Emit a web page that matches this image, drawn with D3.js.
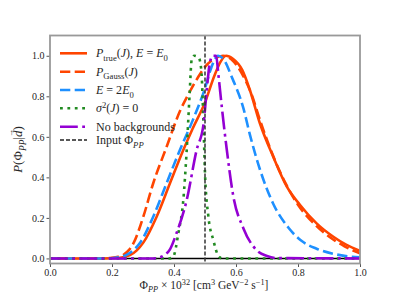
<!DOCTYPE html>
<html>
<head>
<meta charset="utf-8">
<script src="https://cdn.jsdelivr.net/npm/d3@7"></script>
<style>
  body { margin: 0; background: #fff; }
  svg text, svg tspan { font-family: "Liberation Serif", "Times New Roman", serif !important; fill: #262626; }
</style>
</head>
<body>
<div id="container"></div>
<script>
/* DATA */
const pTrue = [[0, 0], [0.17, 0], [0.21, 0.002], [0.235, 0.006], [0.258, 0.016], [0.28, 0.04], [0.301, 0.078],
  [0.344, 0.206], [0.387, 0.371], [0.43, 0.535], [0.46, 0.64], [0.5, 0.77], [0.53, 0.9], [0.55, 0.97],
  [0.568, 1.0], [0.59, 0.985], [0.62, 0.93], [0.645, 0.83], [0.677, 0.667], [0.72, 0.502], [0.764, 0.354],
  [0.806, 0.265], [0.86, 0.173], [0.914, 0.107], [0.955, 0.068], [1.0, 0.037]];

const pGauss = [[0, 0], [0.16, 0], [0.2, 0.003], [0.22, 0.008], [0.237, 0.018], [0.255, 0.042], [0.269, 0.074],
  [0.301, 0.206], [0.333, 0.371], [0.376, 0.55], [0.42, 0.73], [0.45, 0.82], [0.48, 0.9], [0.5, 0.945],
  [0.53, 0.985], [0.558, 1.0], [0.59, 0.975], [0.62, 0.91], [0.65, 0.81], [0.68, 0.67], [0.72, 0.505],
  [0.76, 0.37], [0.8, 0.265], [0.86, 0.16], [0.91, 0.097], [0.95, 0.06], [1.0, 0.025]];

const pE2 = [[0, 0], [0.17, 0], [0.205, 0.002], [0.228, 0.007], [0.247, 0.018], [0.27, 0.042], [0.29, 0.076],
  [0.333, 0.206], [0.376, 0.371], [0.419, 0.535], [0.46, 0.68], [0.5, 0.84], [0.52, 0.94], [0.542, 1.0],
  [0.565, 0.97], [0.585, 0.9], [0.624, 0.74], [0.645, 0.61], [0.677, 0.44], [0.72, 0.27], [0.77, 0.15],
  [0.81, 0.088], [0.86, 0.048], [0.94, 0.015], [1.0, 0.005]];

const pSigma0 = [[0, 0], [0.385, 0], [0.398, 0.01], [0.414, 0.124], [0.43, 0.288], [0.441, 0.535],
  [0.45, 0.8], [0.457, 0.98], [0.465, 1.0], [0.48, 0.99], [0.488, 0.93], [0.495, 0.667], [0.5, 0.42],
  [0.511, 0.206], [0.527, 0.09], [0.543, 0.013], [0.555, 0], [1.0, 0]];

const pNoBg = [[0, 0], [0.335, 0], [0.352, 0.004], [0.366, 0.014], [0.387, 0.045], [0.408, 0.124],
  [0.441, 0.288], [0.473, 0.535], [0.495, 0.66], [0.505, 0.82], [0.515, 0.96], [0.525, 1.0], [0.536, 1.0],
  [0.543, 0.91], [0.554, 0.75], [0.57, 0.54], [0.591, 0.31], [0.624, 0.148], [0.667, 0.04],
  [0.7, 0.012], [0.73, 0.002], [1.0, 0]];

const inputPhi = 0.5;
const xTicks = [0, 0.2, 0.4, 0.6, 0.8, 1.0];
const yTicks = [0, 0.2, 0.4, 0.6, 0.8, 1.0];

/* CONSTANTS */
const width = 400, height = 300;
const margin = { top: 35.5, bottom: 36.5, left: 50, right: 40 };
const serif = '"Liberation Serif", "Times New Roman", serif';

const series = [
  { data: pTrue, color: "#ff4500", dash: null,
    label: [{ t: "P", i: 1 }, { t: "true", sub: 1 }, { t: "(" }, { t: "J", i: 1 }, { t: "), " }, { t: "E", i: 1 }, { t: " = " }, { t: "E", i: 1 }, { t: "0", sub: 1 }] },
  { data: pGauss, color: "#ff4500", dash: "10.3,4.4",
    label: [{ t: "P", i: 1 }, { t: "Gauss", sub: 1 }, { t: "(" }, { t: "J", i: 1 }, { t: ")" }] },
  { data: pE2, color: "#1e90ff", dash: "10.3,4.4",
    label: [{ t: "E", i: 1 }, { t: " = 2" }, { t: "E", i: 1 }, { t: "0", sub: 1 }] },
  { data: pSigma0, color: "#228b22", dash: "2.8,4.6",
    label: [{ t: "σ", i: 1 }, { t: "2", sup: 1 }, { t: "(" }, { t: "J", i: 1 }, { t: ") = 0" }] },
  { data: pNoBg, color: "#9400d3", dash: "17.8,4.4,2.8,4.4",
    label: [{ t: "No backgrounds" }] }
];

/* SCALES */
const xScale = d3.scaleLinear().domain([0, 1]).range([margin.left, width - margin.right]);
const yScale = d3.scaleLinear().domain([-0.025, 1.1]).range([height - margin.bottom, margin.top]);

/* HTML ELEMENTS */
const svg = d3.select("#container").append("svg")
  .attr("width", width).attr("height", height)
  .style("font-family", serif);

// rich text with italics, sub and superscripts
function richText(sel, parts, size) {
  let shift = 0;
  parts.forEach(p => {
    const target = p.sub ? size * 0.3 : p.sup ? -size * 0.38 : 0;
    const ts = sel.append("tspan").text(p.t)
      .attr("dy", target - shift)
      .attr("font-size", (p.sub || p.sup) ? size * 0.72 : size);
    if (p.i) ts.attr("font-style", "italic");
    shift = target;
  });
}

svg.append("defs").append("clipPath").attr("id", "clip")
  .append("rect").attr("x", margin.left).attr("y", margin.top)
  .attr("width", width - margin.left - margin.right)
  .attr("height", height - margin.top - margin.bottom);

const plot = svg.append("g").attr("clip-path", "url(#clip)");

// zero line
plot.append("line")
  .attr("x1", xScale(0)).attr("x2", xScale(1))
  .attr("y1", yScale(0)).attr("y2", yScale(0))
  .attr("stroke", "#000").attr("stroke-width", 1.6);

const line = d3.line()
  .x(d => xScale(d[0]))
  .y(d => yScale(d[1]))
  .curve(d3.curveMonotoneX);

series.forEach(s => {
  plot.append("path")
    .attr("d", line(s.data))
    .attr("fill", "none")
    .attr("stroke", s.color)
    .attr("stroke-width", 2.6)
    .attr("stroke-dasharray", s.dash);
});

// input value
plot.append("line")
  .attr("x1", xScale(inputPhi)).attr("x2", xScale(inputPhi))
  .attr("y1", margin.top).attr("y2", height - margin.bottom)
  .attr("stroke", "#333").attr("stroke-width", 1.5)
  .attr("stroke-dasharray", "4,2");

// axes
const xAxis = d3.axisBottom(xScale).tickValues(xTicks).tickFormat(d3.format(".1f")).tickSize(3.5).tickPadding(2);
const yAxis = d3.axisLeft(yScale).tickValues(yTicks).tickFormat(d3.format(".1f")).tickSize(3.5).tickPadding(2);

svg.append("g")
  .attr("transform", `translate(0,${height - margin.bottom})`)
  .call(xAxis)
  .call(g => g.select(".domain").remove())
  .call(g => g.selectAll("line").attr("stroke", "#555"))
  .call(g => g.selectAll("text").attr("font-size", 10).style("font-family", serif).attr("fill", "#333"));

svg.append("g")
  .attr("transform", `translate(${margin.left},0)`)
  .call(yAxis)
  .call(g => g.select(".domain").remove())
  .call(g => g.selectAll("line").attr("stroke", "#555"))
  .call(g => g.selectAll("text").attr("font-size", 10).style("font-family", serif).attr("fill", "#333"));

// frame
svg.append("rect")
  .attr("x", margin.left).attr("y", margin.top)
  .attr("width", width - margin.left - margin.right)
  .attr("height", height - margin.top - margin.bottom)
  .attr("fill", "none").attr("stroke", "#999").attr("stroke-width", 1.8);

// legend
const legend = svg.append("g");
const legendItems = series.concat([{ color: "#222", dash: "4,2", width: 1.5,
  label: [{ t: "Input Φ" }, { t: "PP", sub: 1, i: 1 }] }]);
const rowY = [53.3, 71.7, 90, 108.3, 126.7, 140];
legendItems.forEach((s, i) => {
  legend.append("line")
    .attr("x1", 60).attr("x2", 87)
    .attr("y1", rowY[i]).attr("y2", rowY[i])
    .attr("stroke", s.color)
    .attr("stroke-width", s.width || 2.6)
    .attr("stroke-dasharray", s.dash);
  const t = legend.append("text").attr("x", 96).attr("y", rowY[i] + 4);
  richText(t, s.label, 12);
});

// axis labels
const xl = svg.append("text").attr("x", 204).attr("y", 289).attr("text-anchor", "middle");
richText(xl, [{ t: "Φ" }, { t: "PP", sub: 1, i: 1 }, { t: " × 10" }, { t: "32", sup: 1 }, { t: " [cm" }, { t: "3", sup: 1 },
  { t: " GeV" }, { t: "−2", sup: 1 }, { t: " s" }, { t: "−1", sup: 1 }, { t: "]" }], 11.5);

const yl = svg.append("text")
  .attr("transform", `translate(22,${(margin.top + height - margin.bottom) / 2}) rotate(-90)`)
  .attr("text-anchor", "middle");
richText(yl, [{ t: "P", i: 1 }, { t: "(Φ" }, { t: "PP", sub: 1, i: 1 }, { t: "|" }, { t: "d", i: 1 }, { t: ")" }], 13);
// vector arrow over d
const dSpan = yl.selectAll("tspan").nodes()[4];
const box = dSpan.getBBox ? null : null;
yl.insert("tspan", "tspan:nth-child(6)")
  .text("→")
  .attr("font-size", 8)
  .attr("dx", -6.5)
  .attr("dy", -9);
yl.select("tspan:nth-child(7)").attr("dx", -1.5).attr("dy", 9);
</script>
</body>
</html>
